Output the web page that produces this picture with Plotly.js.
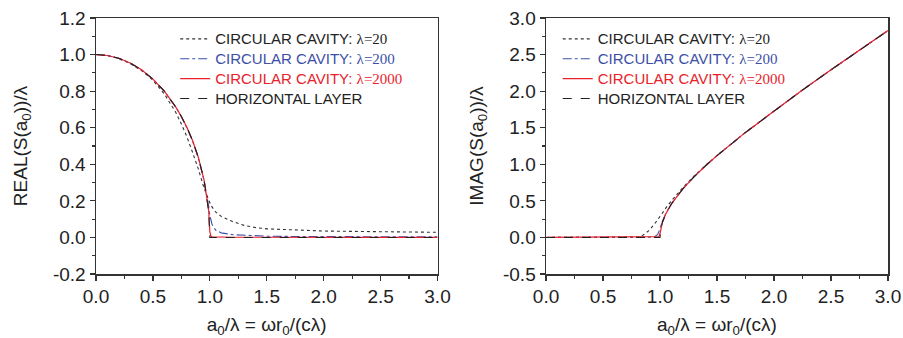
<!DOCTYPE html>
<html>
<head>
<meta charset="utf-8">
<script src="https://cdn.plot.ly/plotly-3.0.1.min.js"></script>
<style>html,body{margin:0;padding:0;background:#fff;}#chart{width:903px;height:338px;}</style>
</head>
<body>
<div id="chart"></div>
<script>
// shared abscissa a0/lambda
const X = [0, 0.1, 0.2, 0.3, 0.4, 0.5, 0.6, 0.7, 0.75, 0.8, 0.85, 0.9, 0.95, 0.98, 0.99, 1.0, 1.01, 1.02, 1.05, 1.1, 1.2, 1.3, 1.4, 1.5, 1.75, 2.0, 2.25, 2.5, 2.75, 3.0];

// REAL part
const realCav20   = [1, 0.995, 0.978, 0.95, 0.913, 0.86, 0.785, 0.685, 0.62, 0.548, 0.462, 0.372, 0.268, 0.215, 0.2, 0.19, 0.175, 0.165, 0.14, 0.115, 0.087, 0.066, 0.054, 0.047, 0.039, 0.035, 0.033, 0.031, 0.029, 0.028];
const realCav200  = [1, 0.995, 0.98, 0.954, 0.917, 0.866, 0.8, 0.713, 0.66, 0.598, 0.524, 0.432, 0.31, 0.21, 0.17, 0.12, 0.09, 0.07, 0.04, 0.025, 0.015, 0.011, 0.009, 0.007, 0.005, 0.004, 0.004, 0.003, 0.003, 0.003];
const realCav2000 = [1, 0.995, 0.98, 0.954, 0.917, 0.866, 0.8, 0.714, 0.661, 0.6, 0.527, 0.436, 0.312, 0.2, 0.145, 0.03, 0.006, 0.003, 0.002, 0.001, 0.001, 0.001, 0.0005, 0.0005, 0.0003, 0.0003, 0.0003, 0.0002, 0.0002, 0.0002];
const realLayer   = [1, 0.995, 0.98, 0.954, 0.917, 0.866, 0.8, 0.714, 0.661, 0.6, 0.527, 0.436, 0.312, 0.199, 0.141, 0, 0, 0, 0, 0, 0, 0, 0, 0, 0, 0, 0, 0, 0, 0];

// IMAG part
const imagCav20   = [0, 0, 0, 0, 0, 0, 0, 0, 0, 0.005, 0.03, 0.09, 0.18, 0.24, 0.265, 0.29, 0.31, 0.33, 0.40, 0.50, 0.68, 0.84, 0.985, 1.12, 1.436, 1.732, 2.016, 2.291, 2.562, 2.828];
const imagCav200  = [0, 0, 0, 0, 0, 0, 0, 0, 0, 0, 0, 0, 0.005, 0.04, 0.07, 0.12, 0.17, 0.22, 0.325, 0.46, 0.663, 0.831, 0.98, 1.118, 1.436, 1.732, 2.016, 2.291, 2.562, 2.828];
const imagCav2000 = [0, 0, 0, 0, 0, 0, 0, 0, 0, 0, 0, 0, 0, 0, 0.01, 0.05, 0.145, 0.202, 0.32, 0.458, 0.663, 0.831, 0.98, 1.118, 1.436, 1.732, 2.016, 2.291, 2.562, 2.828];
const imagLayer   = [0, 0, 0, 0, 0, 0, 0, 0, 0, 0, 0, 0, 0, 0, 0, 0, 0.142, 0.201, 0.32, 0.458, 0.663, 0.831, 0.98, 1.118, 1.436, 1.732, 2.016, 2.291, 2.562, 2.828];

// ticks and tick labels
const xTicks = [0, 0.5, 1.0, 1.5, 2.0, 2.5, 3.0];
const xTickText = ['0.0', '0.5', '1.0', '1.5', '2.0', '2.5', '3.0'];
const yTicksReal = [-0.2, 0, 0.2, 0.4, 0.6, 0.8, 1.0, 1.2];
const yTickTextReal = ['-0.2', '0.0', '0.2', '0.4', '0.6', '0.8', '1.0', '1.2'];
const yTicksImag = [-0.5, 0, 0.5, 1.0, 1.5, 2.0, 2.5, 3.0];
const yTickTextImag = ['-0.5', '0.0', '0.5', '1.0', '1.5', '2.0', '2.5', '3.0'];

const seriesNames = [
  '<span style="color:#222;font-size:15px">CIRCULAR CAVITY: </span><span style="color:#222;font-size:15px;font-family:\'Liberation Serif\'">λ=20</span>',
  '<span style="color:#3c4fa7;font-size:15px">CIRCULAR CAVITY: </span><span style="color:#3c4fa7;font-size:15px;font-family:\'Liberation Serif\'">λ=200</span>',
  '<span style="color:#e8222b;font-size:15px">CIRCULAR CAVITY: </span><span style="color:#e8222b;font-size:15px;font-family:\'Liberation Serif\'">λ=2000</span>',
  '<span style="color:#222;font-size:15px">HORIZONTAL LAYER</span>'
];
const lineStyles = [
  {color: '#333', width: 1.1, dash: 'dot'},
  {color: '#3c4fa7', width: 1.1, dash: 'dashdot'},
  {color: '#e8222b', width: 1.2, dash: 'solid'},
  {color: '#222', width: 1.1, dash: 'dash'}
];

const realSeries = [realCav20, realCav200, realCav2000, realLayer];
const imagSeries = [imagCav20, imagCav200, imagCav2000, imagLayer];

const traces = [];
realSeries.forEach((ys, i) => traces.push({
  x: X, y: ys, xaxis: 'x', yaxis: 'y', type: 'scatter', mode: 'lines',
  name: seriesNames[i], line: lineStyles[i], legend: 'legend'
}));
imagSeries.forEach((ys, i) => traces.push({
  x: X, y: ys, xaxis: 'x2', yaxis: 'y2', type: 'scatter', mode: 'lines',
  name: seriesNames[i], line: lineStyles[i], legend: 'legend2'
}));

const FONT = 'Liberation Sans, Arial, sans-serif';
const axisCommon = {
  showline: true, mirror: true, linecolor: '#333', linewidth: 1.5,
  showgrid: false, zeroline: false,
  ticks: 'outside', ticklen: 5, tickwidth: 1.2, tickcolor: '#333',
  tickfont: {family: FONT, size: 19, color: '#222'},
  tickmode: 'array'
};
const xCommon = Object.assign({}, axisCommon, {
  range: [0, 3], tickvals: xTicks, ticktext: xTickText,
  minor: {ticks: 'outside', ticklen: 3, dtick: 0.25, tick0: 0, tickcolor: '#333'},
  title: {text: 'a<sub>0</sub>/λ = ωr<sub>0</sub>/(cλ)', font: {family: FONT, size: 19, color: '#222'}, standoff: 15}
});

const legendCommon = {
  bgcolor: 'rgba(0,0,0,0)', borderwidth: 0,
  font: {family: FONT, size: 13, color: '#222'},
  yanchor: 'top', xanchor: 'left', tracegroupgap: 0,
  itemwidth: 30
};

const layout = {
  width: 903, height: 338,
  margin: {l: 96, r: 15, t: 18, b: 64},
  paper_bgcolor: '#fff', plot_bgcolor: '#fff',
  showlegend: true,
  xaxis: Object.assign({}, xCommon, {domain: [0, 0.4312], anchor: 'y'}),
  xaxis2: Object.assign({}, xCommon, {domain: [0.5682, 1], anchor: 'y2'}),
  yaxis: Object.assign({}, axisCommon, {
    range: [-0.2, 1.2], tickvals: yTicksReal, ticktext: yTickTextReal, anchor: 'x',
    minor: {ticks: 'outside', ticklen: 3, dtick: 0.1, tick0: 0, tickcolor: '#333'},
    title: {text: 'REAL(S(a<sub>0</sub>))/λ', font: {family: FONT, size: 19, color: '#222'}, standoff: 20}
  }),
  yaxis2: Object.assign({}, axisCommon, {
    range: [-0.5, 3.0], tickvals: yTicksImag, ticktext: yTickTextImag, anchor: 'x2',
    minor: {ticks: 'outside', ticklen: 3, dtick: 0.25, tick0: 0, tickcolor: '#333'},
    title: {text: 'IMAG(S(a<sub>0</sub>))/λ', font: {family: FONT, size: 19, color: '#222'}, standoff: 14}
  }),
  legend: Object.assign({}, legendCommon, {x: 0.1, y: 0.977}),
  legend2: Object.assign({}, legendCommon, {x: 0.583, y: 0.977})
};

Plotly.newPlot('chart', traces, layout, {staticPlot: true, displayModeBar: false});
</script>
</body>
</html>
